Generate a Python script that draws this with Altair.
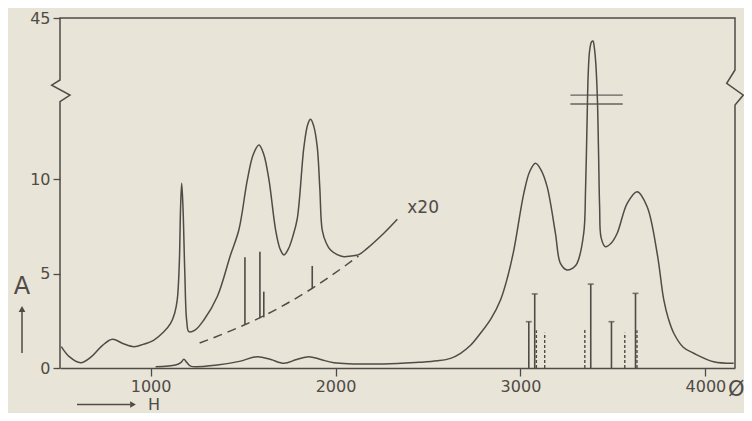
import altair as alt
import pandas as pd

# ---- data ----
# lower (main) spectrum
main_x = [1027, 1135, 1165, 1180, 1195, 1216, 1360, 1480, 1577, 1650, 1721, 1790, 1856, 1920, 1991,
          2261, 2450, 2550, 2622, 2676, 2730, 2784, 2840, 2892, 2930, 2964, 3018, 3050, 3081, 3110,
          3144, 3189, 3216, 3252, 3285, 3306, 3342, 3352, 3360, 3366, 3374, 3384, 3392, 3400, 3408,
          3416, 3422, 3428, 3436, 3459, 3490, 3523, 3577, 3631, 3685, 3739, 3775, 3800, 3829, 3880,
          3937, 4045, 4153]
main_y = [0.07, 0.16, 0.3, 0.46, 0.3, 0.1, 0.16, 0.35, 0.6, 0.45, 0.25, 0.45, 0.6, 0.45, 0.28,
          0.21, 0.3, 0.38, 0.51, 0.78, 1.2, 1.84, 2.6, 3.6, 4.8, 6.24, 9.24, 10.4, 10.83, 10.5,
          9.6, 7.13, 5.54, 5.19, 5.3, 5.54, 7.13, 9.5, 13.0, 15.5, 16.8, 17.25, 17.3, 16.9, 16.0,
          14.2, 11.5, 8.5, 6.9, 6.42, 6.6, 7.13, 8.71, 9.33, 8.53, 6.07, 3.6, 2.6, 1.84, 1.1,
          0.78, 0.33, 0.25]

# x20 magnified trace
x20_x = [517, 560, 622, 680, 740, 793, 850, 910, 960, 1018, 1070, 1108, 1130, 1144, 1155, 1162,
         1168, 1175, 1185, 1195, 1207, 1240, 1288, 1360, 1432, 1477, 1523, 1555, 1586, 1612, 1640,
         1676, 1700, 1721, 1745, 1770, 1793, 1829, 1850, 1865, 1882, 1901, 1915, 1928, 1950, 1973,
         2009, 2045, 2085, 2126, 2171, 2261, 2334]
x20_y = [1.13, 0.6, 0.28, 0.6, 1.2, 1.52, 1.3, 1.13, 1.25, 1.48, 1.9, 2.36, 2.9, 3.6, 5.5, 8.5,
         9.77, 8.5, 5.0, 2.5, 1.92, 2.0, 2.54, 3.77, 5.98, 7.3, 9.95, 11.3, 11.8, 11.3, 9.95,
         7.3, 6.3, 5.98, 6.3, 7.0, 7.9, 11.7, 12.9, 13.16, 12.8, 11.7, 9.5, 7.3, 6.6, 6.24,
         6.0, 5.89, 5.93, 6.0, 6.33, 7.13, 7.87]

# dashed baseline under the x20 trace
base_x = [1265, 1470, 1589, 1876, 2124]
base_y = [1.32, 2.12, 2.65, 4.23, 5.92]

# sticks standing on the dashed baseline
upper_stick_x = [1510, 1591, 1612, 1874]
upper_stick_lo = [2.27, 2.63, 2.68, 4.2]
upper_stick_hi = [5.86, 6.15, 4.04, 5.4]

# stick spectrum near the baseline
solid_x = [3045, 3077, 3380, 3492, 3622]
solid_h = [2.45, 3.92, 4.44, 2.45, 3.95]
dashed_x = [3086, 3131, 3348, 3564, 3630]
dashed_h = [2.0, 1.86, 2.05, 1.86, 2.0]

# break marks across the tall peak
break_x = [3270, 3553]
break_y = [14.44, 13.97]

# frame with broken axes (data units)
frame_x = [510, 510, 564, 465, 510, 510, 4160, 4160, 4115, 4205, 4160, 4160]
frame_y = [0, 14.09, 14.44, 14.97, 15.24, 18.52, 18.52, 15.77, 15.06, 14.44, 13.92, 0]

x_ticks = [1000, 2000, 3000, 4000]
y_ticks = [0, 5, 10, 18.52]
y_top_label = "45"

# ---- styling ----
INK = "#4f4b46"
BG = "#e8e4d8"
FONT = "DejaVu Sans"
CURVE = "catmull-rom"

xs = alt.Scale(domain=[510, 4160], nice=False, zero=False)
ys = alt.Scale(domain=[0, 18.52], nice=False, zero=False)

xax = alt.Axis(values=x_ticks, format="d", tickSize=8, labelPadding=2, domain=True, domainColor=INK,
               domainWidth=1.5, tickColor=INK, tickWidth=1.3, labelColor=INK, labelFont=FONT,
               labelFontSize=16, grid=False, title=None, labelFlush=False)
yax = alt.Axis(values=y_ticks, tickSize=7, labelPadding=3, domain=False, tickColor=INK,
               tickWidth=1.3, labelColor=INK, labelFont=FONT, labelFontSize=16, grid=False,
               title=None, labelFlush=False,
               labelExpr=f"datum.value > 15 ? '{y_top_label}' : datum.label")

frame_df = pd.DataFrame({"x": frame_x, "y": frame_y, "i": range(len(frame_x))})
main_df = pd.DataFrame({"x": main_x, "y": main_y})
x20_df = pd.DataFrame({"x": x20_x, "y": x20_y})
base_df = pd.DataFrame({"x": base_x, "y": base_y})
up_df = pd.DataFrame({"x": upper_stick_x, "lo": upper_stick_lo, "hi": upper_stick_hi})
solid_df = pd.DataFrame({"x": solid_x, "h": solid_h, "z": [0] * len(solid_x)})
dashed_df = pd.DataFrame({"x": dashed_x, "h": dashed_h, "z": [0] * len(dashed_x)})
break_df = pd.DataFrame({"x": [break_x[0]] * 2, "x2": [break_x[1]] * 2, "y": break_y})

frame = alt.Chart(frame_df).mark_line(color=INK, strokeWidth=1.5).encode(
    x=alt.X("x:Q", scale=xs, axis=xax),
    y=alt.Y("y:Q", scale=ys, axis=yax),
    order="i:Q",
)

main = alt.Chart(main_df).mark_line(color=INK, strokeWidth=1.5, interpolate=CURVE).encode(
    x=alt.X("x:Q", scale=xs), y=alt.Y("y:Q", scale=ys))

x20 = alt.Chart(x20_df).mark_line(color=INK, strokeWidth=1.5, interpolate=CURVE).encode(
    x=alt.X("x:Q", scale=xs), y=alt.Y("y:Q", scale=ys))

base = alt.Chart(base_df).mark_line(color=INK, strokeWidth=1.5, strokeDash=[9, 6],
                                    interpolate="monotone").encode(
    x=alt.X("x:Q", scale=xs), y=alt.Y("y:Q", scale=ys))

up_sticks = alt.Chart(up_df).mark_rule(color=INK, strokeWidth=1.6).encode(
    x=alt.X("x:Q", scale=xs), y=alt.Y("lo:Q", scale=ys), y2="hi:Q")

solid = alt.Chart(solid_df).mark_rule(color=INK, strokeWidth=1.6).encode(
    x=alt.X("x:Q", scale=xs), y=alt.Y("z:Q", scale=ys), y2="h:Q")

caps = alt.Chart(solid_df).mark_tick(color=INK, orient="horizontal", size=6, thickness=1.6).encode(
    x=alt.X("x:Q", scale=xs), y=alt.Y("h:Q", scale=ys))

dashed = alt.Chart(dashed_df).mark_rule(color=INK, strokeWidth=1.4, strokeDash=[3, 2]).encode(
    x=alt.X("x:Q", scale=xs), y=alt.Y("z:Q", scale=ys), y2="h:Q")

breaks = alt.Chart(break_df).mark_rule(color=INK, strokeWidth=1.4, opacity=0.85).encode(
    x=alt.X("x:Q", scale=xs), x2="x2:Q", y=alt.Y("y:Q", scale=ys))

x20_label = alt.Chart(pd.DataFrame({"x": [2388], "y": [8.47], "t": ["x20"]})).mark_text(
    color=INK, font=FONT, fontSize=17, align="left", baseline="middle").encode(
    x=alt.X("x:Q", scale=xs), y=alt.Y("y:Q", scale=ys), text="t:N")

anno = alt.Chart(pd.DataFrame({"d": [0]}))
a_text = anno.mark_text(text="A", color=INK, font=FONT, fontSize=24, baseline="middle",
                        align="center").encode(x=alt.value(-38), y=alt.value(269))
a_line = anno.mark_rule(color=INK, strokeWidth=1.5).encode(
    x=alt.value(-38), y=alt.value(292), y2=alt.value(335))
a_head = anno.mark_point(shape="triangle-up", filled=True, color=INK, size=45, opacity=1).encode(
    x=alt.value(-38), y=alt.value(291))
h_text = anno.mark_text(text="H", color=INK, font=FONT, fontSize=16, baseline="middle",
                        align="center").encode(x=alt.value(94), y=alt.value(386.5))
h_line = anno.mark_rule(color=INK, strokeWidth=1.5).encode(
    x=alt.value(17), x2=alt.value(70), y=alt.value(386.5))
h_head = anno.mark_point(shape="triangle-right", filled=True, color=INK, size=45, opacity=1).encode(
    x=alt.value(73), y=alt.value(386.5))
phi = anno.mark_text(text="Ø", color=INK, font=FONT, fontSize=21, baseline="middle",
                     align="left").encode(x=alt.value(668), y=alt.value(372))

chart = alt.layer(
    frame, main, x20, base, up_sticks, solid, caps, dashed, breaks, x20_label,
    a_text, a_line, a_head, h_text, h_line, h_head, phi,
).properties(
    width=675, height=350,
    autosize=alt.AutoSizeParams(type="none"),
    padding={"left": 52, "top": 10, "right": 9, "bottom": 45},
    background=BG,
).configure_view(stroke=None)

chart.save("out.html", embed_options={"renderer": "svg", "actions": False})
